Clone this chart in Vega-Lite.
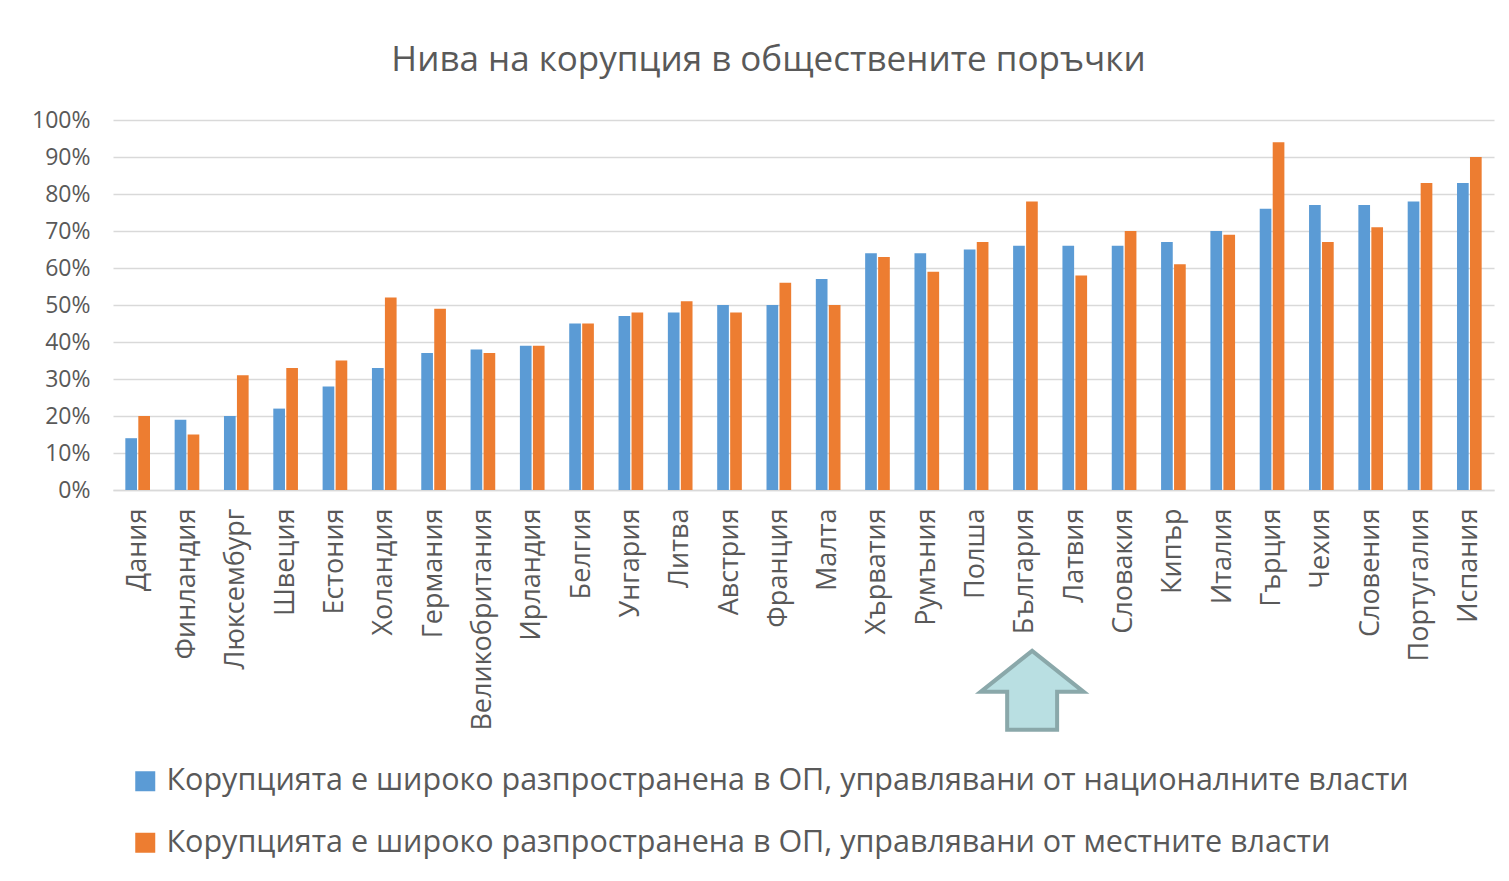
{
  "$schema": "https://vega.github.io/schema/vega-lite/v6.json",
  "width": 1381,
  "height": 370,
  "autosize": {"type": "none"},
  "padding": {"left": 113, "top": 120, "right": 15, "bottom": 391},
  "background": "white",
  "title": {
    "text": "Нива на корупция в обществените поръчки",
    "font": "Open Sans",
    "fontSize": 35,
    "fontWeight": "normal",
    "color": "#595959",
    "anchor": "middle",
    "dx": -35,
    "offset": 31
  },
  "config": {
    "view": {"stroke": null},
    "font": "Open Sans"
  },
  "encoding": {
    "x": {
      "field": "country",
      "type": "nominal",
      "sort": null,
      "scale": {"paddingInner": 0.5, "paddingOuter": 0.25},
      "axis": {
        "title": null,
        "labelAngle": -90,
        "labelAlign": "right",
        "labelBaseline": "middle",
        "labelFontSize": 27,
        "labelColor": "#595959",
        "labelPadding": 18,
        "labelOverlap": false,
        "ticks": false,
        "domainColor": "#D9D9D9",
        "domainWidth": 1.5,
        "labelLimit": 400
      }
    },
    "y": {
      "field": "value",
      "type": "quantitative",
      "scale": {"domain": [0, 1], "nice": false},
      "axis": {
        "title": null,
        "format": ".0%",
        "values": [0, 0.1, 0.2, 0.3, 0.4, 0.5, 0.6, 0.7, 0.8, 0.9, 1],
        "labelOverlap": false,
        "labelFontSize": 23,
        "labelColor": "#595959",
        "labelPadding": 23,
        "ticks": false,
        "domain": false,
        "gridColor": "#D9D9D9",
        "gridWidth": 1.5
      }
    }
  },
  "layer": [
    {
      "data": {
        "values": [
          {"country": "Дания", "nat": 0.14, "loc": 0.20},
          {"country": "Финландия", "nat": 0.19, "loc": 0.15},
          {"country": "Люксембург", "nat": 0.20, "loc": 0.31},
          {"country": "Швеция", "nat": 0.22, "loc": 0.33},
          {"country": "Естония", "nat": 0.28, "loc": 0.35},
          {"country": "Холандия", "nat": 0.33, "loc": 0.52},
          {"country": "Германия", "nat": 0.37, "loc": 0.49},
          {"country": "Великобритания", "nat": 0.38, "loc": 0.37},
          {"country": "Ирландия", "nat": 0.39, "loc": 0.39},
          {"country": "Белгия", "nat": 0.45, "loc": 0.45},
          {"country": "Унгария", "nat": 0.47, "loc": 0.48},
          {"country": "Литва", "nat": 0.48, "loc": 0.51},
          {"country": "Австрия", "nat": 0.50, "loc": 0.48},
          {"country": "Франция", "nat": 0.50, "loc": 0.56},
          {"country": "Малта", "nat": 0.57, "loc": 0.50},
          {"country": "Хърватия", "nat": 0.64, "loc": 0.63},
          {"country": "Румъния", "nat": 0.64, "loc": 0.59},
          {"country": "Полша", "nat": 0.65, "loc": 0.67},
          {"country": "България", "nat": 0.66, "loc": 0.78},
          {"country": "Латвия", "nat": 0.66, "loc": 0.58},
          {"country": "Словакия", "nat": 0.66, "loc": 0.70},
          {"country": "Кипър", "nat": 0.67, "loc": 0.61},
          {"country": "Италия", "nat": 0.70, "loc": 0.69},
          {"country": "Гърция", "nat": 0.76, "loc": 0.94},
          {"country": "Чехия", "nat": 0.77, "loc": 0.67},
          {"country": "Словения", "nat": 0.77, "loc": 0.71},
          {"country": "Португалия", "nat": 0.78, "loc": 0.83},
          {"country": "Испания", "nat": 0.83, "loc": 0.90}
        ]
      },
      "transform": [{"fold": ["nat", "loc"], "as": ["series", "value"]}],
      "mark": {"type": "bar"},
      "encoding": {
        "xOffset": {
          "field": "series",
          "type": "nominal",
          "sort": ["nat", "loc"],
          "scale": {"paddingInner": 0.1, "paddingOuter": 0}
        },
        "color": {
          "field": "series",
          "type": "nominal",
          "scale": {"domain": ["nat", "loc"], "range": ["#5B9BD5", "#ED7D31"]},
          "legend": {
            "title": null,
            "orient": "none",
            "legendX": 17,
            "legendY": 646,
            "direction": "vertical",
            "symbolType": "square",
            "symbolSize": 400,
            "symbolStrokeWidth": 0,
            "labelFontSize": 30.5,
            "labelColor": "#595959",
            "labelLimit": 1400,
            "labelOffset": 6,
            "rowPadding": 30.5,
            "labelExpr": "datum.label == 'nat' ? 'Корупцията е широко разпространена в ОП, управлявани от националните власти' : 'Корупцията е широко разпространена в ОП, управлявани от местните власти'"
          }
        }
      }
    },
    {
      "data": {"values": [{"country": "България", "value": -0.54}]},
      "mark": {
        "type": "point",
        "shape": "M0.13,-0.757 L1.13,0.04 L0.615,0.04 L0.615,0.777 L-0.355,0.777 L-0.355,0.04 L-0.87,0.04 Z",
        "filled": true,
        "fill": "#B9DFE2",
        "stroke": "#8AA8AA",
        "strokeWidth": 4,
        "opacity": 1,
        "size": 10609
      }
    }
  ]
}
